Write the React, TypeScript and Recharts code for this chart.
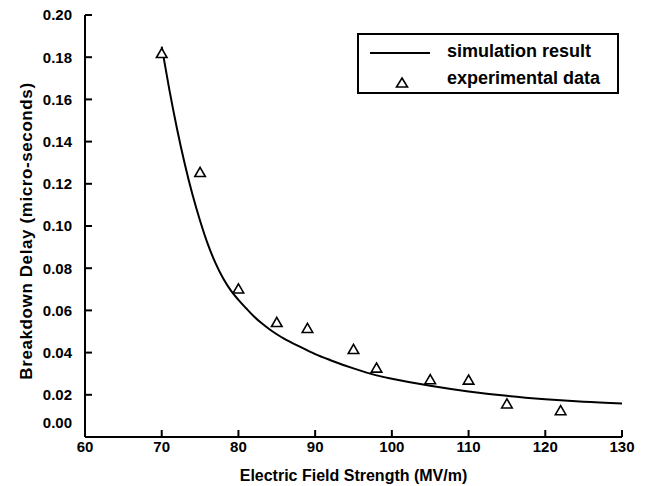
import React from 'react';
import { ComposedChart, Line, Scatter, XAxis, YAxis, ZAxis, Legend } from 'recharts';

const simX = [70, 71, 72, 73, 74, 75, 76, 77, 78, 79, 80, 81, 82, 83, 84, 85, 86, 88, 90, 92, 95, 98, 100, 105, 110, 115, 120, 125, 130];
const simY = [0.185, 0.1645, 0.146, 0.1295, 0.115, 0.1025, 0.0915, 0.0825, 0.0752, 0.0695, 0.065, 0.061, 0.0572, 0.054, 0.0512, 0.0487, 0.0465, 0.0428, 0.0393, 0.0364, 0.0325, 0.0292, 0.0276, 0.0243, 0.0216, 0.0195, 0.0179, 0.0167, 0.0159];

const expX = [70, 75, 80, 85, 89, 95, 98, 105, 110, 115, 122];
const expY = [0.1813, 0.1249, 0.0697, 0.0538, 0.051, 0.041, 0.0322, 0.0267, 0.0265, 0.0152, 0.012];

const xTicks = [60, 70, 80, 90, 100, 110, 120, 130];
const yTicks = [0, 0.02, 0.04, 0.06, 0.08, 0.1, 0.12, 0.14, 0.16, 0.18, 0.2];

const simData = simX.map((x, i) => ({ x, y: simY[i] }));
const expData = expX.map((x, i) => ({ x, y: expY[i] }));

const FONT = '"Liberation Sans", Arial, Helvetica, sans-serif';
const TICK_LEN = 7;
const SW = 2;

const BottomTick = (props: any) => {
  const { x, y, payload } = props;
  return (
    <g>
      <path d={`M${x},${y}L${x},${y - TICK_LEN}`} stroke="#000" strokeWidth={SW} fill="none" />
      <text x={x} y={y + 14.5} textAnchor="middle" fontFamily={FONT} fontWeight="bold" fontSize={15} fill="#000">
        {payload.value}
      </text>
    </g>
  );
};

const TopTick = (props: any) => {
  const { x, y } = props;
  return <path d={`M${x},${y}L${x},${y + TICK_LEN}`} stroke="#000" strokeWidth={SW} fill="none" />;
};

const LeftTick = (props: any) => {
  const { x, y, payload } = props;
  const dy = payload.value === 0 ? -14 : 0;
  return (
    <g>
      <path d={`M${x},${y}L${x + TICK_LEN},${y}`} stroke="#000" strokeWidth={SW} fill="none" />
      <text x={x - 13} y={y + 5.4 + dy} textAnchor="end" fontFamily={FONT} fontWeight="bold" fontSize={15} fill="#000">
        {Number(payload.value).toFixed(2)}
      </text>
    </g>
  );
};

const RightTick = (props: any) => {
  const { x, y } = props;
  return <path d={`M${x},${y}L${x - TICK_LEN},${y}`} stroke="#000" strokeWidth={SW} fill="none" />;
};

const XTitle = (props: any) => {
  const vb = props.viewBox || {};
  return (
    <text x={vb.x + vb.width / 2} y={vb.y + 44} textAnchor="middle" fontFamily={FONT} fontWeight="bold" fontSize={16} fill="#000">
      Electric Field Strength (MV/m)
    </text>
  );
};

const YTitle = (props: any) => {
  const vb = props.viewBox || {};
  const cx = 32;
  const cy = vb.y + vb.height / 2 + 5;
  return (
    <text x={cx} y={cy} transform={`rotate(-90, ${cx}, ${cy})`} textAnchor="middle" fontFamily={FONT} fontWeight="bold" fontSize={17} letterSpacing={0.6} fill="#000">
      Breakdown Delay (micro-seconds)
    </text>
  );
};

const LegendBox = () => (
  <div style={{ width: 258, height: 57, border: '2px solid #000', background: '#fff', position: 'relative' }}>
    <svg width={258} height={57} style={{ display: 'block' }}>
      <path d="M11,18 L71,18" stroke="#000" strokeWidth={2} fill="none" />
      <path d="M43,43 L48.5,52 L37.5,52 Z" fill="#fff" stroke="#000" strokeWidth={1.6} />
      <text x={88} y={22} fontFamily={FONT} fontWeight="bold" fontSize={18} fill="#000">simulation result</text>
      <text x={88} y={49} fontFamily={FONT} fontWeight="bold" fontSize={18} fill="#000">experimental data</text>
    </svg>
  </div>
);

export default function App() {
  return (
    <div style={{ position: 'absolute', left: 0, top: 0, background: '#fff' }}>
      <ComposedChart width={647} height={486} margin={{ top: 15, right: 25, left: 0, bottom: 0 }}>
        <XAxis
          xAxisId="b"
          type="number"
          dataKey="x"
          domain={[60, 130]}
          ticks={xTicks}
          interval={0}
          allowDataOverflow
          orientation="bottom"
          height={49}
          tickLine={false}
          tickSize={0}
          tickMargin={0}
          tick={<BottomTick />}
          axisLine={{ stroke: '#000', strokeWidth: SW }}
          label={<XTitle />}
        />
        <XAxis
          xAxisId="t"
          type="number"
          dataKey="x"
          domain={[60, 130]}
          ticks={xTicks}
          interval={0}
          allowDataOverflow
          orientation="top"
          height={0}
          tickLine={false}
          tickSize={0}
          tickMargin={0}
          tick={<TopTick />}
          axisLine={{ stroke: '#000', strokeWidth: SW }}
        />
        <YAxis
          yAxisId="l"
          type="number"
          domain={[0, 0.2]}
          ticks={yTicks}
          interval={0}
          allowDataOverflow
          orientation="left"
          width={85}
          tickLine={false}
          tickSize={0}
          tickMargin={0}
          tick={<LeftTick />}
          axisLine={{ stroke: '#000', strokeWidth: SW }}
          label={<YTitle />}
        />
        <YAxis
          yAxisId="r"
          type="number"
          domain={[0, 0.2]}
          ticks={yTicks}
          interval={0}
          allowDataOverflow
          orientation="right"
          width={0}
          tickLine={false}
          tickSize={0}
          tickMargin={0}
          tick={<RightTick />}
          axisLine={{ stroke: '#000', strokeWidth: SW }}
        />
        <ZAxis range={[48, 48]} />
        <Line
          xAxisId="b"
          yAxisId="l"
          data={simData}
          dataKey="y"
          name="simulation result"
          type="monotone"
          stroke="#000"
          strokeWidth={2}
          dot={false}
          activeDot={false}
          isAnimationActive={false}
        />
        <Scatter
          xAxisId="b"
          yAxisId="l"
          data={expData}
          dataKey="y"
          name="experimental data"
          shape="triangle"
          fill="#fff"
          stroke="#000"
          strokeWidth={1.6}
          isAnimationActive={false}
        />
        <Legend
          layout="horizontal"
          verticalAlign="middle"
          align="center"
          content={() => <LegendBox />}
          wrapperStyle={{ position: 'absolute', left: 357, top: 33, width: 262, height: 61 }}
        />
      </ComposedChart>
    </div>
  );
}
